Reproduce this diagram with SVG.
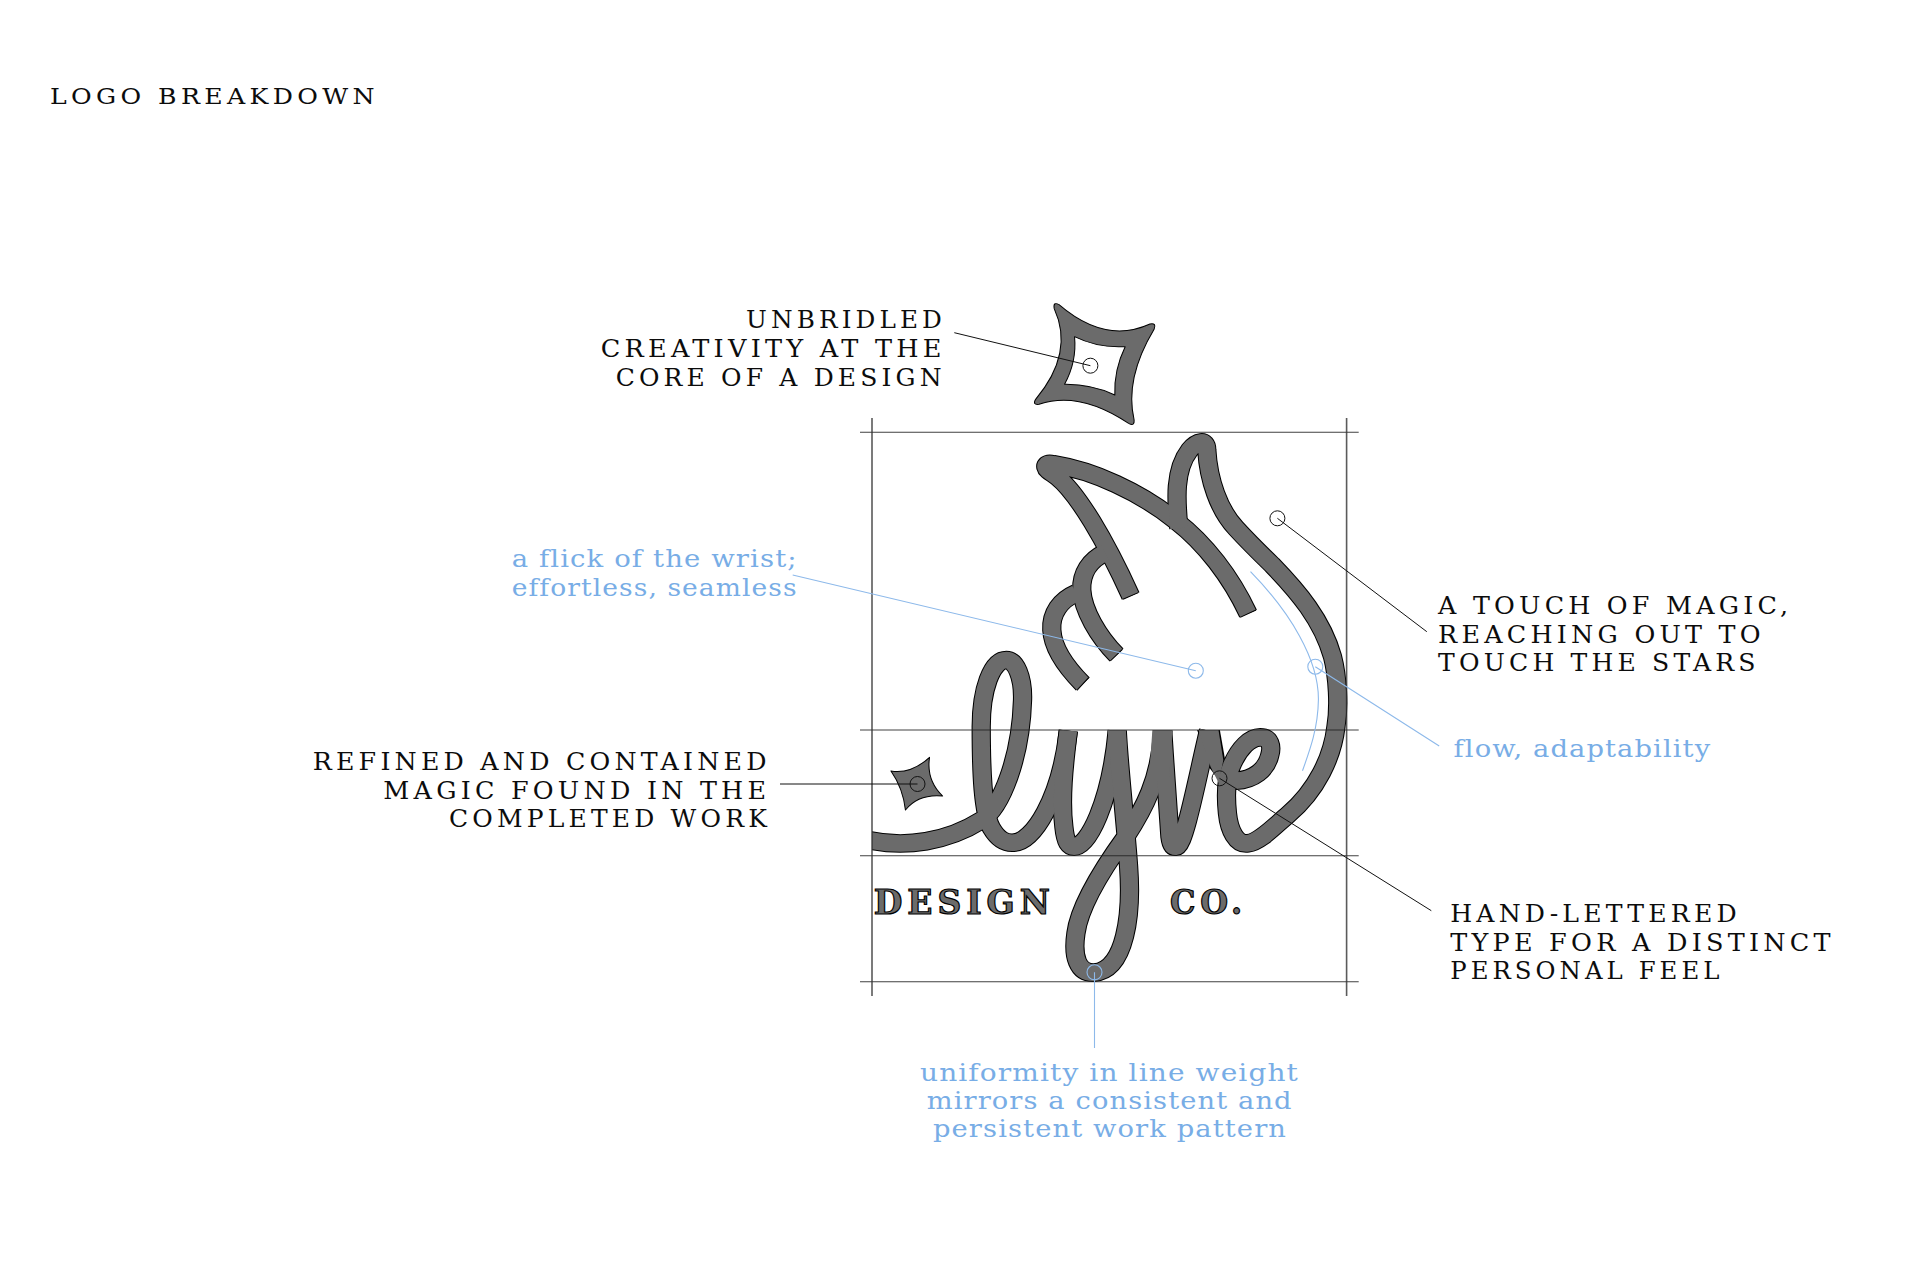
<svg xmlns="http://www.w3.org/2000/svg" xmlns:xlink="http://www.w3.org/1999/xlink" width="1920" height="1280" viewBox="0 0 1920 1280">
<style>
.k{font-family:"DejaVu Serif",serif;font-size:24px;fill:#0c0c0c;letter-spacing:4px}
.t{font-size:23px}
.bl{font-family:"DejaVu Serif",serif;font-size:25px;fill:#78ade6;letter-spacing:1px}
.d{font-family:"DejaVu Serif",serif;font-weight:bold;font-size:33px;fill:#6b6b6b;stroke:#000;stroke-width:1.2;letter-spacing:5px}
.ln{fill:none;stroke:#111;stroke-width:1}
.lb{fill:none;stroke:#8db9ea;stroke-width:1.1}
.gh{stroke:#222;stroke-width:1.1;opacity:.85}
.gv{stroke:#333;stroke-width:1.6;opacity:.8}
#strokes path{fill:none;stroke-linejoin:round}
.under{stroke:#000;stroke-width:56}
.over{stroke:#6b6b6b;stroke-width:50}
.shape{fill:#6b6b6b;stroke:#000;stroke-width:3;stroke-linejoin:round;fill-rule:evenodd}
.cap{stroke:#000;stroke-width:3}
</style>
<defs>
<clipPath id="clipLeft"><rect x="93" y="0" width="2000" height="3000"/></clipPath>
<g id="strokes">
<path d="M1185,1001 C1135,890 1060,790 975,722 C870,635 735,572 620,553 C605,550 595,552 598,562 C600,572 615,578 630,590 C690,640 770,780 844,948"/>
<path d="M770,818 C725,840 700,880 702,930 C705,990 750,1070 803,1125"/>
<path d="M685,940 C640,960 612,1000 615,1050 C618,1110 660,1165 705,1212"/>
<path d="M984,745 C976,660 970,570 1015,510 C1035,485 1065,475 1065,510 C1070,600 1100,690 1150,745 C1190,790 1225,825 1255,855 C1330,935 1400,1020 1430,1130 C1445,1190 1450,1280 1440,1340 C1430,1430 1385,1530 1300,1605 C1260,1640 1220,1685 1185,1690 C1150,1695 1130,1650 1125,1600 C1118,1530 1125,1480 1140,1450 C1160,1405 1190,1372 1220,1372 C1250,1372 1255,1400 1248,1425 C1238,1470 1200,1500 1150,1502 L1125,1498"/>
<path d="M60,1674 C190,1712 320,1680 412,1620 C470,1580 525,1430 530,1260 C532,1190 510,1140 483,1140 C440,1140 410,1230 410,1340 C410,1480 415,1600 440,1645 C460,1680 480,1690 505,1688 C560,1685 640,1560 663,1352"/>
<path d="M663,1352 C650,1460 640,1560 650,1640 C655,1690 665,1700 680,1700 C720,1700 785,1570 805,1352"/>
<path d="M805,1352 C812,1480 830,1640 838,1760 C848,1900 830,2070 738,2078 C690,2080 675,2030 685,1960 C695,1880 760,1770 830,1670 C880,1590 930,1500 937,1352"/>
<path d="M937,1352 C945,1480 955,1630 958,1670 C962,1705 970,1700 977,1700 C1000,1700 1040,1480 1070,1352"/>
</g>
</defs>
<rect width="1920" height="1280" fill="#fff"/>
<g id="title"><text class="k t" x="50" y="104" textLength="329" lengthAdjust="spacingAndGlyphs">LOGO BREAKDOWN</text></g>
<g id="logo" transform="translate(840,280) scale(.3444,.33333)">
<g clip-path="url(#clipLeft)">
<use xlink:href="#strokes" class="under"/>
<path fill="#000" d="M1037,1350 L1103,1350 L1118,1438 L1100,1500 L1073,1464 Z"/>
<use xlink:href="#strokes" class="over"/>
</g>
<path fill="#6b6b6b" d="M1041,1350 L1099,1350 L1113,1440 L1100,1510 L1076,1460 Z"/>
<path fill="#6b6b6b" d="M777,1350 L830,1350 L835,1500 L790,1500 Z M907,1350 L965,1350 L955,1500 L897,1500 Z"/>
<path class="cap" d="M1162,1012 L1208,990 M822,958 L866,938 M785,1143 L820,1108 M688,1231 L722,1193"/>
</g>
<g id="star-large" transform="translate(840,280) scale(.3444,.33333)">
<path class="shape" d="M636,74 Q770,193 900,132 Q920,128 912,148 Q826,296 854,420 Q856,440 838,430 Q694,331 578,373 Q558,376 568,358 Q681,219 622,86 Q618,64 636,74 Z M681,170 Q750,205 828,200 Q795,270 798,345 Q730,312 652,313 Q688,245 681,170 Z"/>
</g>
<g id="star-small" transform="translate(840,280) scale(.3444,.33333)">
<path class="shape" d="M148,1473 Q206,1483 260,1432 Q250,1500 298,1548 Q228,1541 190,1590 Q183,1525 148,1473 Z"/>
</g>
<g id="grid">
<path class="gh" d="M860,432.3H1358.7M860,730H1358.7M860,855.7H1358.7M860,981.7H1358.7"/>
<path class="gv" d="M872,418V996M1346.6,418V996"/>
</g>
<g id="logotype-text">
<text class="d" x="873.8" y="914.3" textLength="181" lengthAdjust="spacingAndGlyphs">DESIGN</text>
<text class="d" x="1170" y="914.3" textLength="77" lengthAdjust="spacingAndGlyphs">CO.</text>
</g>
<g id="connectors">
<path class="lb" d="M1250.5,571.7 C1290,612 1319,660 1318.4,700 C1318,728 1310,750 1302.5,770.7"/>
<path class="ln" d="M954.3,332.7L1090.4,365.7M1277.4,518.3L1426.8,631.7M780,784H917.5M1219.5,778.3L1431.3,910.7"/>
<circle class="ln" cx="1090.4" cy="365.7" r="7.5"/><circle class="ln" cx="1277.4" cy="518.3" r="7.5"/><circle class="ln" cx="917.5" cy="784" r="7.5"/><circle class="ln" cx="1219.5" cy="778.3" r="7.5"/>
<path class="lb" d="M792.7,575L1195.8,670.7M1315.3,666.7L1439.2,746M1094.5,972.3V1048"/>
<circle class="lb" cx="1195.8" cy="670.7" r="7.5"/><circle class="lb" cx="1315.3" cy="666.7" r="7.5"/><circle class="lb" cx="1094.5" cy="972.3" r="7.5"/>
</g>
<g id="label-unbridled">
<text class="k" x="746" y="328.3" textLength="200" lengthAdjust="spacingAndGlyphs">UNBRIDLED</text>
<text class="k" x="600.7" y="357.3" textLength="345" lengthAdjust="spacingAndGlyphs">CREATIVITY AT THE</text>
<text class="k" x="615.7" y="385.7" textLength="330" lengthAdjust="spacingAndGlyphs">CORE OF A DESIGN</text>
</g>
<g id="label-touch">
<text class="k" x="1438.1" y="614" textLength="354.3" lengthAdjust="spacingAndGlyphs">A TOUCH OF MAGIC,</text>
<text class="k" x="1438.1" y="642.7" textLength="326.7" lengthAdjust="spacingAndGlyphs">REACHING OUT TO</text>
<text class="k" x="1438.1" y="670.7" textLength="321.6" lengthAdjust="spacingAndGlyphs">TOUCH THE STARS</text>
</g>
<g id="label-hand">
<text class="k" x="1450.2" y="922" textLength="290.6" lengthAdjust="spacingAndGlyphs">HAND-LETTERED</text>
<text class="k" x="1450.2" y="951" textLength="384.6" lengthAdjust="spacingAndGlyphs">TYPE FOR A DISTINCT</text>
<text class="k" x="1450.2" y="979" textLength="273.3" lengthAdjust="spacingAndGlyphs">PERSONAL FEEL</text>
</g>
<g id="label-refined">
<text class="k" x="312.7" y="770" textLength="458" lengthAdjust="spacingAndGlyphs">REFINED AND CONTAINED</text>
<text class="k" x="383.3" y="798.7" textLength="387" lengthAdjust="spacingAndGlyphs">MAGIC FOUND IN THE</text>
<text class="k" x="449" y="827.3" textLength="322" lengthAdjust="spacingAndGlyphs">COMPLETED WORK</text>
</g>
<g id="label-flick">
<text class="bl" x="511.7" y="567.3" textLength="286" lengthAdjust="spacingAndGlyphs">a flick of the wrist;</text>
<text class="bl" x="511.7" y="595.7" textLength="286" lengthAdjust="spacingAndGlyphs">effortless, seamless</text>
</g>
<g id="label-flow"><text class="bl" x="1453.6" y="757.3" textLength="257.6" lengthAdjust="spacingAndGlyphs">flow, adaptability</text></g>
<g id="label-uniformity">
<text class="bl" x="920" y="1080.7" textLength="379" lengthAdjust="spacingAndGlyphs">uniformity in line weight</text>
<text class="bl" x="926.7" y="1108.7" textLength="366" lengthAdjust="spacingAndGlyphs">mirrors a consistent and</text>
<text class="bl" x="933" y="1137.3" textLength="354" lengthAdjust="spacingAndGlyphs">persistent work pattern</text>
</g>
</svg>
